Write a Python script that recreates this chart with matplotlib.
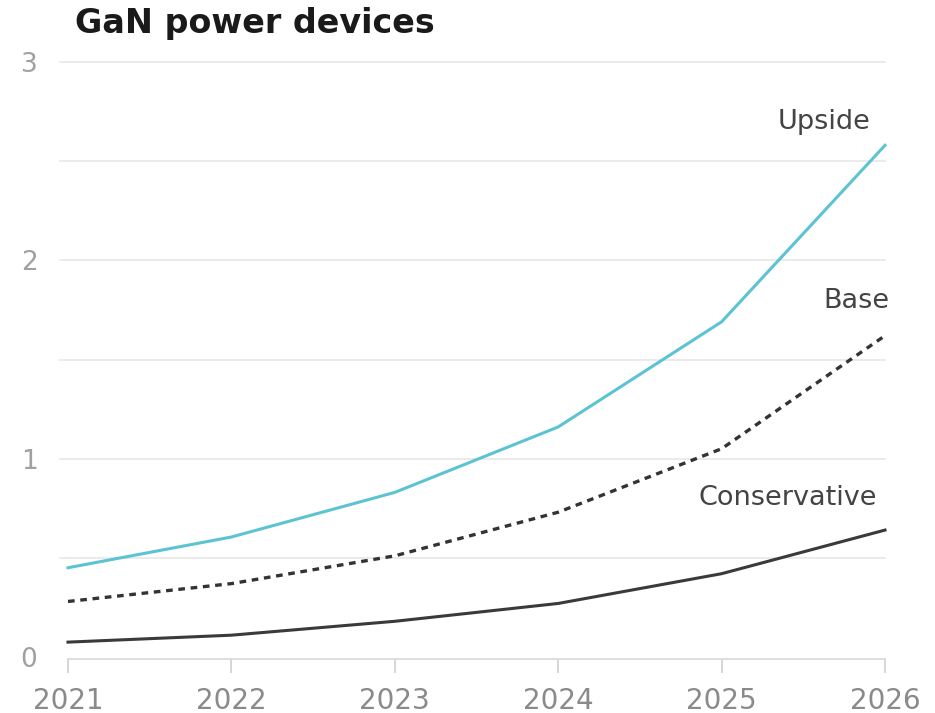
import matplotlib
matplotlib.use("Agg")
import matplotlib.pyplot as plt

years = [2021, 2022, 2023, 2024, 2025, 2026]
upside = [0.45, 0.605, 0.83, 1.16, 1.69, 2.58]
base = [0.28, 0.37, 0.51, 0.73, 1.05, 1.62]
conservative = [0.075, 0.11, 0.18, 0.27, 0.42, 0.64]
y_ticks = [0, 1, 2, 3]
grid_vals = [0.5, 1, 1.5, 2, 2.5, 3]
title = "GaN power devices"

plt.rcParams['font.family'] = ['DejaVu Sans']

fig = plt.figure(figsize=(9.35, 7.13), dpi=100)
ax = fig.add_axes([68/935, (713-657)/713, (885-68)/935, (657-62)/713])

for g in grid_vals:
    ax.axhline(g, color='#e8e8e8', lw=1.2, zorder=0, xmin=-0.01, clip_on=False)

ax.plot(years, upside, color='#5cc3d3', lw=2.2, clip_on=False, zorder=3)
ax.plot(years, base, color='#333333', lw=2.4, ls=(0, (2.0, 1.7)), clip_on=False, zorder=3)
ax.plot(years, conservative, color='#3a3a3a', lw=2.2, clip_on=False, zorder=3)

ax.set_xlim(2021, 2026)
ax.set_ylim(0, 3)
ax.set_xticks(years)
ax.set_xticklabels([str(y) for y in years])
ax.set_yticks(y_ticks)
ax.set_yticklabels([str(t) for t in y_ticks])

for s in ['top', 'right', 'left']:
    ax.spines[s].set_visible(False)
ax.spines['bottom'].set_color('#d8d8d8')
ax.spines['bottom'].set_linewidth(1.2)
ax.spines['bottom'].set_position(('data', -0.01))
ax.tick_params(axis='x', colors='#d0d0d0', length=10, width=1.2, labelsize=20,
               labelcolor='#8a8a8a', pad=10, direction='out')
ax.tick_params(axis='y', length=0, labelsize=19, labelcolor='#a0a0a0', pad=22)

x_end = years[-1]
ax.text(x_end - 0.09, upside[-1] + 0.115, 'Upside', ha='right', va='center',
        fontsize=19.5, color='#444444')
ax.text(x_end + 0.03, base[-1] + 0.175, 'Base', ha='right', va='center',
        fontsize=19.5, color='#444444')
ax.text(x_end - 0.05, conservative[-1] + 0.16, 'Conservative', ha='right', va='center',
        fontsize=19.5, color='#444444')

fig.text(75/935, 1 - 23/713, title, ha='left', va='center', fontsize=24,
         fontweight='bold', color='#1a1a1a')

fig.savefig('out.png', dpi=100, facecolor='white')
